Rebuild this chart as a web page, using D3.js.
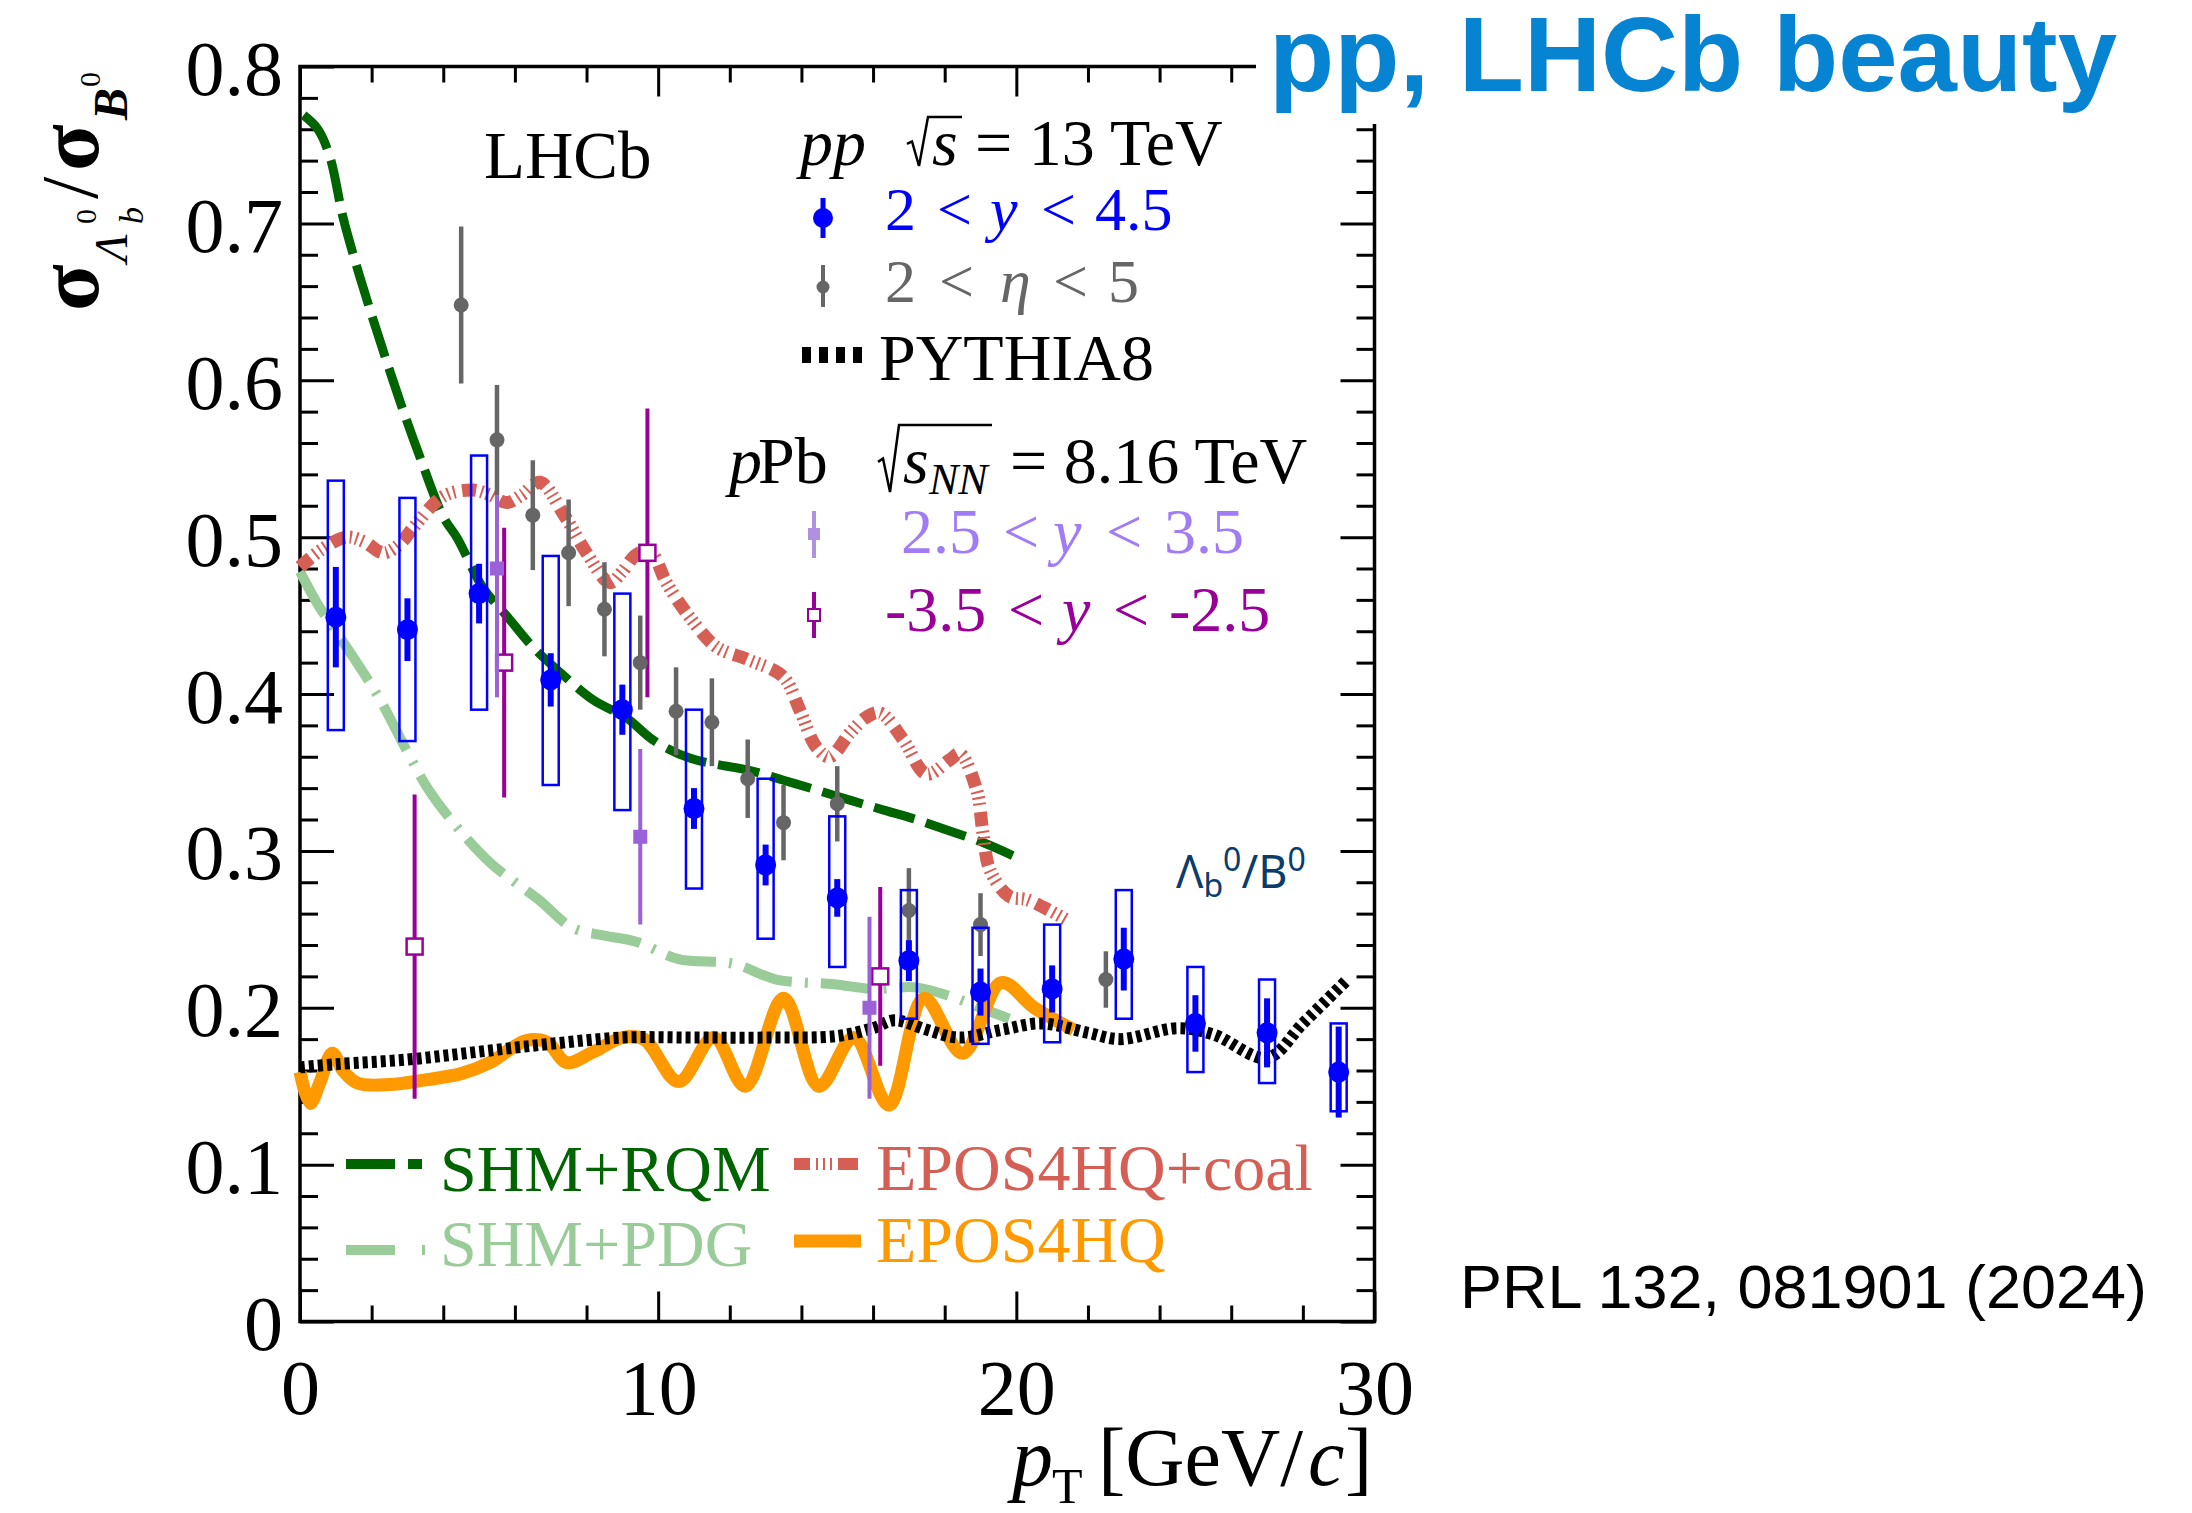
<!DOCTYPE html>
<html>
<head>
<meta charset="utf-8">
<script src="https://cdn.jsdelivr.net/npm/d3@7"></script>
<style>
  body { margin: 0; background: #fff; }
</style>
</head>
<body>
<svg id="chart" width="2192" height="1513"></svg>
<script>
// ---- axis ticks ----
const xTicks = [0, 10, 20, 30];
const xLabels = ["0", "10", "20", "30"];
const xMinor = [2, 4, 6, 8, 12, 14, 16, 18, 22, 24, 26, 28];
const yTicks = [0, 0.1, 0.2, 0.3, 0.4, 0.5, 0.6, 0.7, 0.8];
const yLabels = ["0", "0.1", "0.2", "0.3", "0.4", "0.5", "0.6", "0.7", "0.8"];
const yMinor = d3.range(0.02, 0.8, 0.02).filter(v => Math.abs(v * 10 - Math.round(v * 10)) > 0.01);

// ---- pp 13 TeV, 2<y<4.5 (blue) ----
const bluePt = [1, 3, 5, 7, 9, 11, 13, 15, 17, 19, 21, 23, 25, 27, 29];
const blueVal = [0.449, 0.441, 0.464, 0.409, 0.390, 0.327, 0.291, 0.270, 0.230, 0.210, 0.212, 0.231, 0.190, 0.184, 0.159];
const blueStat = [0.032, 0.020, 0.019, 0.017, 0.016, 0.013, 0.013, 0.012, 0.013, 0.015, 0.015, 0.020, 0.018, 0.022, 0.029];
const blueSysLo = [0.377, 0.370, 0.390, 0.342, 0.326, 0.276, 0.244, 0.226, 0.193, 0.177, 0.178, 0.193, 0.159, 0.152, 0.134];
const blueSysHi = [0.536, 0.525, 0.552, 0.488, 0.464, 0.390, 0.346, 0.322, 0.275, 0.251, 0.253, 0.275, 0.226, 0.218, 0.190];

// ---- pp 13 TeV, 2<eta<5 (grey) ----
const grayPt = [4.5, 5.5, 6.5, 7.5, 8.5, 9.5, 10.5, 11.5, 12.5, 13.5, 15, 17, 19, 22.5];
const grayVal = [0.648, 0.562, 0.514, 0.490, 0.454, 0.420, 0.389, 0.382, 0.346, 0.318, 0.330, 0.262, 0.253, 0.218];
const grayErr = [0.050, 0.035, 0.035, 0.034, 0.030, 0.030, 0.028, 0.028, 0.025, 0.024, 0.024, 0.027, 0.020, 0.018];

// ---- pPb 8.16 TeV ----
const fwdPt = [5.5, 9.5, 15.9];
const fwdVal = [0.480, 0.309, 0.200];
const fwdErr = [0.082, 0.056, 0.058];
const bwdPt = [3.2, 5.7, 9.7, 16.2];
const bwdVal = [0.239, 0.420, 0.490, 0.220];
const bwdErr = [0.097, 0.086, 0.092, 0.057];

// ---- model curves ----
const rqmPt = [0.1, 0.5, 0.84, 1.2, 1.67, 2.22, 2.8, 3.35, 4.0, 4.4, 5.1, 5.8, 6.5, 7.3, 8.2, 9.1, 9.9, 10.9, 12.6, 13.5, 14.4, 15.4, 16.3, 17.2, 18.1, 19.1, 19.9];
const rqmVal = [0.769, 0.760, 0.742, 0.704, 0.666, 0.626, 0.586, 0.551, 0.513, 0.499, 0.468, 0.449, 0.430, 0.413, 0.396, 0.385, 0.370, 0.359, 0.351, 0.345, 0.339, 0.332, 0.326, 0.320, 0.313, 0.305, 0.297];
const pdgPt = [0, 0.5, 1.0, 1.47, 2.22, 3.0, 3.59, 4.5, 5.33, 6.0, 6.66, 7.6, 8.5, 9.4, 10.57, 12.1, 13.3, 14.9, 16.0, 17.2, 18.2, 19.0, 19.8];
const pdgVal = [0.478, 0.457, 0.440, 0.424, 0.397, 0.363, 0.339, 0.312, 0.292, 0.280, 0.269, 0.251, 0.246, 0.242, 0.231, 0.228, 0.218, 0.215, 0.212, 0.213, 0.207, 0.200, 0.193];
const coalPt = [0, 0.6, 1.3, 1.8, 2.33, 2.8, 3.16, 4.0, 4.84, 5.3, 5.77, 6.2, 6.7, 7.35, 8.0, 8.65, 9.0, 9.4, 9.8, 10.23, 10.88, 11.63, 12.5, 13.49, 13.95, 14.42, 14.79, 15.35, 15.8, 16.19, 16.84, 17.49, 18.14, 18.42, 18.89, 19.07, 19.26, 19.8, 20.28, 20.93, 21.49];
const coalVal = [0.481, 0.492, 0.500, 0.497, 0.490, 0.496, 0.506, 0.526, 0.530, 0.527, 0.522, 0.527, 0.535, 0.515, 0.490, 0.471, 0.478, 0.489, 0.490, 0.471, 0.449, 0.430, 0.422, 0.411, 0.390, 0.366, 0.360, 0.375, 0.385, 0.388, 0.371, 0.349, 0.358, 0.362, 0.339, 0.311, 0.288, 0.271, 0.269, 0.262, 0.255];
const eposPt = [0, 0.28, 0.55, 0.9, 1.2, 1.6, 2.5, 3.5, 4.5, 5.3, 6.3, 6.9, 7.45, 8.2, 9.0, 9.6, 10.57, 11.55, 12.43, 13.5, 14.49, 15.46, 16.44, 17.42, 18.5, 19.58, 20.5, 21.6];
const eposVal = [0.159, 0.139, 0.152, 0.171, 0.160, 0.152, 0.151, 0.154, 0.158, 0.165, 0.179, 0.178, 0.165, 0.172, 0.181, 0.180, 0.153, 0.181, 0.150, 0.206, 0.150, 0.181, 0.138, 0.206, 0.171, 0.216, 0.200, 0.186];
const pyPt = [0, 1, 3, 5, 7, 9, 11, 13, 15, 16, 16.6, 17.5, 18.4, 19.6, 20.7, 22, 22.9, 24.5, 25.5, 27, 28, 29.2];
const pyVal = [0.162, 0.164, 0.167, 0.172, 0.177, 0.181, 0.181, 0.181, 0.182, 0.187, 0.192, 0.186, 0.181, 0.186, 0.190, 0.184, 0.180, 0.187, 0.183, 0.168, 0.190, 0.217];

const serif = "'Liberation Serif','Times New Roman',serif";
const sans = "'Liberation Sans',Arial,Helvetica,sans-serif";
const C = {
  blue: "#0000ff", gray: "#666666", fwd: "#9a62d6", fwdText: "#a07cf7", bwd: "#990099",
  rqm: "#006400", pdg: "#99cc99", coal: "#d65f55", epos: "#ff9900"
};

const svg = d3.select("#chart");
svg.append("rect").attr("width", 2192).attr("height", 1513).attr("fill", "#fff");

const x = d3.scaleLinear().domain([0, 30]).range([300, 1374.5]);
const y = d3.scaleLinear().domain([0, 0.8]).range([1321.5, 66.5]);

// ---- axes ----
function styleAxis(g, labels) {
  g.select(".domain").remove();
  g.selectAll(".tick line").attr("stroke", "#000").attr("stroke-width", 3);
  g.attr("font-family", serif).attr("font-size", 78);
  g.selectAll(".tick text").attr("fill", "#000");
  if (!labels) g.selectAll(".tick text").remove();
}
const fmt = (arr, lab) => (d) => lab[arr.indexOf(d)];

const gx = svg.append("g").attr("transform", `translate(0,${y(0)})`)
  .call(d3.axisBottom(x).tickValues(xTicks).tickSize(-30).tickSizeOuter(0).tickPadding(37).tickFormat(fmt(xTicks, xLabels)));
styleAxis(gx, true);
styleAxis(svg.append("g").attr("transform", `translate(0,${y(0)})`)
  .call(d3.axisBottom(x).tickValues(xMinor).tickSize(-16).tickSizeOuter(0).tickFormat("")), false);
styleAxis(svg.append("g").attr("transform", `translate(0,${y(0.8)})`)
  .call(d3.axisTop(x).tickValues(xTicks).tickSize(-30).tickSizeOuter(0).tickFormat("")), false);
styleAxis(svg.append("g").attr("transform", `translate(0,${y(0.8)})`)
  .call(d3.axisTop(x).tickValues(xMinor).tickSize(-16).tickSizeOuter(0).tickFormat("")), false);

const gy = svg.append("g").attr("transform", `translate(${x(0)},0)`)
  .call(d3.axisLeft(y).tickValues(yTicks).tickSize(-34).tickSizeOuter(0).tickPadding(17).tickFormat(fmt(yTicks, yLabels)));
styleAxis(gy, true);
gy.selectAll(".tick text").attr("dy", "0.36em");
styleAxis(svg.append("g").attr("transform", `translate(${x(0)},0)`)
  .call(d3.axisLeft(y).tickValues(yMinor).tickSize(-18).tickSizeOuter(0).tickFormat("")), false);
styleAxis(svg.append("g").attr("transform", `translate(${x(30)},0)`)
  .call(d3.axisRight(y).tickValues(yTicks).tickSize(-34).tickSizeOuter(0).tickFormat("")), false);
styleAxis(svg.append("g").attr("transform", `translate(${x(30)},0)`)
  .call(d3.axisRight(y).tickValues(yMinor).tickSize(-18).tickSizeOuter(0).tickFormat("")), false);

svg.append("rect")
  .attr("x", x(0)).attr("y", y(0.8))
  .attr("width", x(30) - x(0)).attr("height", y(0) - y(0.8))
  .attr("fill", "none").attr("stroke", "#000").attr("stroke-width", 3.5);

// ---- model curves ----
const zip = (xs, ys) => xs.map((v, i) => [v, ys[i]]);
const line = d3.line().x(d => x(d[0])).y(d => y(d[1])).curve(d3.curveCatmullRom.alpha(0.5));

function curve(xs, ys, color, width, dash) {
  svg.append("path").attr("d", line(zip(xs, ys)))
    .attr("fill", "none").attr("stroke", color).attr("stroke-width", width)
    .attr("stroke-dasharray", dash);
}
curve(pdgPt, pdgVal, C.pdg, 10, "50,13,3,13");
curve(rqmPt, rqmVal, C.rqm, 9, "42,12");
curve(coalPt, coalVal, C.coal, 13, "14,5,2,4,2,4,2,7");
curve(eposPt, eposVal, C.epos, 13, null);
curve(pyPt, pyVal, "#000", 12, "5,4");

// ---- data points ----
function errBars(xs, vs, es, color, width) {
  svg.append("g").selectAll("line").data(xs).join("line")
    .attr("x1", d => x(d)).attr("x2", d => x(d))
    .attr("y1", (d, i) => y(vs[i] + es[i])).attr("y2", (d, i) => y(vs[i] - es[i]))
    .attr("stroke", color).attr("stroke-width", width);
}

// pPb backward: open squares
errBars(bwdPt, bwdVal, bwdErr, C.bwd, 4);
svg.append("g").selectAll("rect").data(bwdPt).join("rect")
  .attr("x", d => x(d) - 8).attr("y", (d, i) => y(bwdVal[i]) - 8)
  .attr("width", 16).attr("height", 16)
  .attr("fill", "#fff").attr("stroke", C.bwd).attr("stroke-width", 2.5);

// pPb forward: filled squares
errBars(fwdPt, fwdVal, fwdErr, C.fwd, 4);
svg.append("g").selectAll("rect").data(fwdPt).join("rect")
  .attr("x", d => x(d) - 7).attr("y", (d, i) => y(fwdVal[i]) - 7)
  .attr("width", 14).attr("height", 14).attr("fill", C.fwd);

// grey points
errBars(grayPt, grayVal, grayErr, C.gray, 4.5);
svg.append("g").selectAll("circle").data(grayPt).join("circle")
  .attr("cx", d => x(d)).attr("cy", (d, i) => y(grayVal[i])).attr("r", 7.5)
  .attr("fill", C.gray);

// blue points with systematic boxes
svg.append("g").selectAll("rect").data(bluePt).join("rect")
  .attr("x", d => x(d) - 8).attr("width", 16)
  .attr("y", (d, i) => y(blueSysHi[i]))
  .attr("height", (d, i) => y(blueSysLo[i]) - y(blueSysHi[i]))
  .attr("fill", "none").attr("stroke", C.blue).attr("stroke-width", 2.5);
errBars(bluePt, blueVal, blueStat, C.blue, 6);
svg.append("g").selectAll("circle").data(bluePt).join("circle")
  .attr("cx", d => x(d)).attr("cy", (d, i) => y(blueVal[i])).attr("r", 10.5)
  .attr("fill", C.blue);

// ---- text helpers ----
function txt(xp, yp, str, size, color, opts = {}) {
  return svg.append("text").attr("x", xp).attr("y", yp).text(str)
    .attr("font-family", opts.family || serif).attr("font-size", size)
    .attr("fill", color).attr("font-style", opts.italic ? "italic" : null)
    .attr("font-weight", opts.bold ? "bold" : null)
    .attr("text-anchor", opts.anchor || null);
}
function rtxt(sx, sy, str, size, opts = {}) {
  svg.append("text").attr("transform", `translate(${sx},${sy}) rotate(-90)`)
    .text(str).attr("font-family", serif).attr("font-size", size)
    .attr("font-style", opts.italic ? "italic" : null)
    .attr("font-weight", opts.bold ? "bold" : null).attr("fill", "#000");
}
// radical sign drawn as a stroke: tick, down-stroke, up-stroke, bar over the radicand
function radical(x0, yTop, yBot, xEnd) {
  const h = yBot - yTop;
  svg.append("path")
    .attr("d", `M${x0},${yTop + h * 0.55} L${x0 + 5},${yTop + h * 0.5} L${x0 + 12},${yBot} L${x0 + 21},${yTop} L${xEnd},${yTop}`)
    .attr("fill", "none").attr("stroke", "#000").attr("stroke-width", 2.5).attr("stroke-linejoin", "miter");
}

// y-axis title: sigma_{Lambda_b^0} / sigma_{B^0}
rtxt(98, 311, "σ", 86, { bold: true });
rtxt(127, 262, "Λ", 46, { italic: true });
rtxt(143, 224, "b", 34, { italic: true });
rtxt(96, 224, "0", 30);
rtxt(97, 199, "/", 80);
rtxt(98, 171, "σ", 86, { bold: true });
rtxt(127, 120, "B", 48, { italic: true, bold: true });
rtxt(100, 87, "0", 30);

// x-axis title
txt(1012, 1485, "p", 82, "#000", { italic: true });
txt(1052, 1503, "T", 50, "#000");
txt(1098, 1485, "[GeV/", 82, "#000");
txt(1308, 1485, "c", 82, "#000", { italic: true });
txt(1345, 1485, "]", 82, "#000");

// LHCb + legend header
txt(484, 178, "LHCb", 67, "#000");
txt(800, 165, "pp", 66, "#000", { italic: true });
radical(907, 117, 166, 962);
txt(932, 165, "s", 66, "#000", { italic: true });
txt(975, 165, "= 13 TeV", 66, "#000");

function legendRow(baseline, size, color, parts) {
  parts.forEach(p => txt(p[0], baseline, p[1], size, color, { italic: p[2] }));
}
legendRow(230, 62, C.blue, [[885, "2"], [937, "<"], [990, "y", true], [1041, "<"], [1095, "4.5"]]);
legendRow(302, 62, C.gray, [[885, "2"], [939, "<"], [1000, "η", true], [1053, "<"], [1108, "5"]]);
txt(879, 380, "PYTHIA8", 66, "#000");

txt(729, 483, "p", 66, "#000", { italic: true });
txt(758, 483, "Pb", 66, "#000");
radical(878, 425, 492, 992);
txt(903, 483, "s", 66, "#000", { italic: true });
txt(929, 494, "NN", 44, "#000", { italic: true });
txt(1010, 483, "= 8.16 TeV", 66, "#000");

legendRow(553, 64, C.fwdText, [[901, "2.5"], [1003, "<"], [1053, "y", true], [1106, "<"], [1164, "3.5"]]);
legendRow(631, 64, C.bwd, [[885, "-3.5"], [1008, "<"], [1062, "y", true], [1113, "<"], [1169, "-2.5"]]);

// legend markers
svg.append("line").attr("x1", 823).attr("x2", 823).attr("y1", 198).attr("y2", 238).attr("stroke", C.blue).attr("stroke-width", 5);
svg.append("circle").attr("cx", 823).attr("cy", 218).attr("r", 10).attr("fill", C.blue);
svg.append("line").attr("x1", 823).attr("x2", 823).attr("y1", 265).attr("y2", 307).attr("stroke", C.gray).attr("stroke-width", 4);
svg.append("circle").attr("cx", 823).attr("cy", 287).attr("r", 6.5).attr("fill", C.gray);
svg.append("line").attr("x1", 802).attr("x2", 866).attr("y1", 355).attr("y2", 355).attr("stroke", "#000").attr("stroke-width", 16).attr("stroke-dasharray", "9,8");
svg.append("line").attr("x1", 814).attr("x2", 814).attr("y1", 511).attr("y2", 558).attr("stroke", "#b090e0").attr("stroke-width", 4);
svg.append("rect").attr("x", 808).attr("y", 528).attr("width", 12).attr("height", 12).attr("fill", "#b090e0");
svg.append("line").attr("x1", 814).attr("x2", 814).attr("y1", 592).attr("y2", 638).attr("stroke", C.bwd).attr("stroke-width", 4);
svg.append("rect").attr("x", 808).attr("y", 609).attr("width", 12).attr("height", 12).attr("fill", "#fff").attr("stroke", C.bwd).attr("stroke-width", 2);

// model legend
svg.append("line").attr("x1", 346).attr("x2", 422).attr("y1", 1164).attr("y2", 1164).attr("stroke", C.rqm).attr("stroke-width", 10).attr("stroke-dasharray", "49,13,14");
svg.append("line").attr("x1", 346).attr("x2", 425).attr("y1", 1250).attr("y2", 1250).attr("stroke", C.pdg).attr("stroke-width", 10).attr("stroke-dasharray", "49,27,3");
svg.append("line").attr("x1", 794).attr("x2", 858).attr("y1", 1164).attr("y2", 1164).attr("stroke", C.coal).attr("stroke-width", 12).attr("stroke-dasharray", "16,6,2,5,2,5,2,6,20");
svg.append("line").attr("x1", 794).attr("x2", 861).attr("y1", 1241).attr("y2", 1241).attr("stroke", C.epos).attr("stroke-width", 13);
txt(440, 1191, "SHM+RQM", 66, C.rqm);
txt(440, 1266, "SHM+PDG", 66, C.pdg);
txt(876, 1190, "EPOS4HQ+coal", 66, C.coal);
txt(876, 1262, "EPOS4HQ", 66, C.epos);

// annotation
const ann = svg.append("text").attr("x", 1176).attr("y", 888)
  .attr("font-family", "'Noto Sans','DejaVu Sans',sans-serif").attr("font-size", 45).attr("fill", "#0b3d6b");
ann.append("tspan").text("Λ");
ann.append("tspan").text("b").attr("font-size", 32).attr("dy", 9);
ann.append("tspan").text("0").attr("font-size", 32).attr("dy", -26);
ann.append("tspan").text("/B").attr("dy", 17);
ann.append("tspan").text("0").attr("font-size", 32).attr("dy", -17);

// title box over top-right corner
svg.append("rect").attr("x", 1256).attr("y", 0).attr("width", 936).attr("height", 124).attr("fill", "#fff");
txt(1269, 91, "pp, LHCb beauty", 106, "#0684d2", { family: sans, bold: true })
  .attr("textLength", 848).attr("lengthAdjust", "spacingAndGlyphs");
txt(1460, 1308, "PRL 132, 081901 (2024)", 62, "#000", { family: sans })
  .attr("textLength", 687).attr("lengthAdjust", "spacingAndGlyphs");
</script>
</body>
</html>
